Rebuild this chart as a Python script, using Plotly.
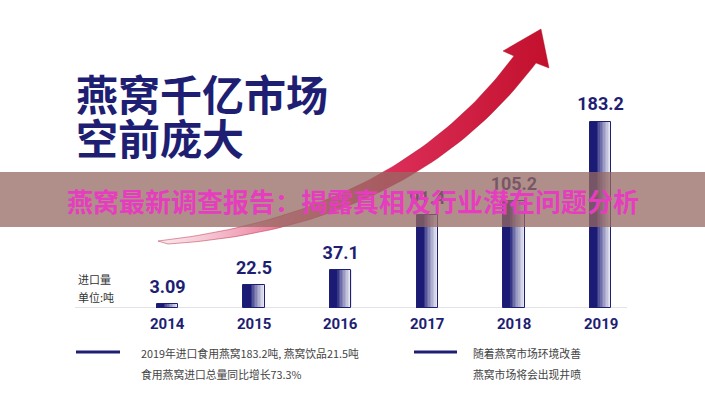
import numpy as np
import plotly.graph_objects as go

# ---------------- data ----------------
years = ["2014", "2015", "2016", "2017", "2018", "2019"]
imports = [3.09, 22.5, 37.1, 91.4, 105.2, 183.2]
value_labels = ["3.09", "22.5", "37.1", "91.4", "105.2", "183.2"]

title_lines = ["燕窝千亿市场", "空前庞大"]
unit_lines = ["进口量", "单位:吨"]
banner_text = "燕窝最新调查报告：揭露真相及行业潜在问题分析"
note_left = ["2019年进口食用燕窝183.2吨, 燕窝饮品21.5吨", "食用燕窝进口总量同比增长73.3%"]
note_right = ["随着燕窝市场环境改善", "燕窝市场将会出现井喷"]

# ---------------- layout constants ----------------
W, H = 705, 400
X0, DX = 167.5, 86.6          # px of first category, px per category
BASE, PXU = 307.5, 1.0153     # px of baseline, px per ton
NAVY = "#1e1e72"
NUMF = "Roboto, Liberation Sans, sans-serif"
CJK = "Noto Sans CJK SC, sans-serif"

xs = list(range(len(years)))
bar_w = 21.5 / DX

fig = go.Figure()

# gradient bars: navy on the left fading to white on the right
N = 14
navy_rgb = np.array([27, 27, 118])
white_rgb = np.array([240, 240, 248])
for k in range(N):
    t = (k + 0.5) / N
    f = 0 if t < 0.35 else (t - 0.35) / 0.65
    f = f ** 0.75
    c = (navy_rgb * (1 - f) + white_rgb * f).round().astype(int)
    fig.add_trace(go.Bar(
        x=xs, y=imports, width=bar_w / N * 1.08,
        offset=-bar_w / 2 + k * bar_w / N,
        marker=dict(color=f"rgb({c[0]},{c[1]},{c[2]})", line=dict(width=0)),
        hoverinfo="skip", showlegend=False))
# outline
fig.add_trace(go.Bar(
    x=xs, y=imports, width=bar_w, offset=-bar_w / 2,
    marker=dict(color="rgba(0,0,0,0)", line=dict(width=1, color=NAVY)),
    hoverinfo="skip", showlegend=False))

# value labels (below the banner)
fig.add_trace(go.Scatter(
    x=xs, y=imports, mode="markers+text", text=[f"<b>{v}</b>" for v in value_labels],
    textposition="top center",
    marker=dict(size=9, color="rgba(0,0,0,0)"),
    textfont=dict(family=NUMF, size=18, color=NAVY),
    hoverinfo="skip", showlegend=False))

# ---------------- decorative arrow (pixel overlay axes) ----------------
def quad(p0, c, p2, n=60):
    t = np.linspace(0, 1, n)[:, None]
    p0, c, p2 = map(np.array, (p0, c, p2))
    return (1 - t) ** 2 * p0 + 2 * t * (1 - t) * c + t ** 2 * p2

upper = quad((158, 241), (397, 214), (514, 56))
lower = quad((536, 63), (411, 229), (168, 244))
head = np.array([(503, 51), (541, 29), (549, 68)])
poly = np.vstack([upper, head, lower, upper[:1]])
fig.add_trace(go.Scatter(
    x=poly[:, 0], y=poly[:, 1], xaxis="x2", yaxis="y2",
    mode="lines", fill="toself",
    line=dict(width=0.6, color="rgba(170,12,35,0.7)"),
    fillcolor="#d0203f",
    fillgradient=dict(type="horizontal",
                      colorscale=[[0, "rgba(248,205,220,0.5)"], [0.3, "#ea7f9c"],
                                  [0.6, "#db2d58"], [1, "#c2102c"]]),
    hoverinfo="skip", showlegend=False))

# ---------------- annotations ----------------
ann = []
def px(x):
    return x / W
def py(y):
    return 1 - y / H

for i, line in enumerate(title_lines):
    ann.append(dict(x=px(74), y=py(92 + 44 * i), xref="paper", yref="paper",
                    xanchor="left", yanchor="middle", showarrow=False, text=line,
                    font=dict(family=CJK, size=42, color=NAVY, weight="bold")))
for i, line in enumerate(unit_lines):
    ann.append(dict(x=px(76), y=py(279 + 18 * i), xref="paper", yref="paper",
                    xanchor="left", yanchor="middle", showarrow=False, text=line,
                    font=dict(family=CJK, size=11, color="#333333")))
for i, yr in enumerate(years):
    ann.append(dict(x=i, y=0, xref="x", yref="y", xanchor="center", yanchor="top",
                    yshift=-5, showarrow=False, text=f"<b>{yr}</b>",
                    font=dict(family=NUMF, size=15, color=NAVY)))
for i, line in enumerate(note_left):
    ann.append(dict(x=px(139), y=py(353 + 21 * i), xref="paper", yref="paper",
                    xanchor="left", yanchor="middle", showarrow=False, text=line,
                    font=dict(family=CJK, size=10.8, color="#444444")))
for i, line in enumerate(note_right):
    ann.append(dict(x=px(471), y=py(353 + 21 * i), xref="paper", yref="paper",
                    xanchor="left", yanchor="middle", showarrow=False, text=line,
                    font=dict(family=CJK, size=10.8, color="#444444")))
ann.append(dict(x=px(353), y=py(200), xref="paper", yref="paper",
                xanchor="center", yanchor="middle", showarrow=False, text=banner_text,
                font=dict(family=CJK, size=26, color="#e63cbf", weight="bold")))

shapes = [
    # baseline
    dict(type="line", xref="paper", yref="paper", x0=px(75), x1=px(627),
         y0=py(BASE), y1=py(BASE), line=dict(color="#e2e2e8", width=1), layer="below"),
    # note markers
    dict(type="line", xref="paper", yref="paper", x0=px(76), x1=px(120),
         y0=py(352), y1=py(352), line=dict(color=NAVY, width=3)),
    dict(type="line", xref="paper", yref="paper", x0=px(414), x1=px(457),
         y0=py(352), y1=py(352), line=dict(color=NAVY, width=3)),
    # banner
    dict(type="rect", xref="paper", yref="paper", x0=0, x1=1, y0=py(227), y1=py(172),
         fillcolor="rgba(150,106,99,0.75)", line=dict(width=0), layer="above"),
]

fig.update_layout(
    width=W, height=H, margin=dict(l=0, r=0, t=0, b=0),
    paper_bgcolor="white", plot_bgcolor="white",
    barmode="overlay", bargap=0,
    xaxis=dict(range=[-X0 / DX, (W - X0) / DX], visible=False, fixedrange=True),
    yaxis=dict(range=[-(H - BASE) / PXU, BASE / PXU], visible=False, fixedrange=True),
    xaxis2=dict(overlaying="x", anchor="y2", range=[0, W], visible=False),
    yaxis2=dict(overlaying="y", anchor="x2", range=[H, 0], visible=False),
    annotations=ann, shapes=shapes, showlegend=False,
)

fig.write_html("out.html")
